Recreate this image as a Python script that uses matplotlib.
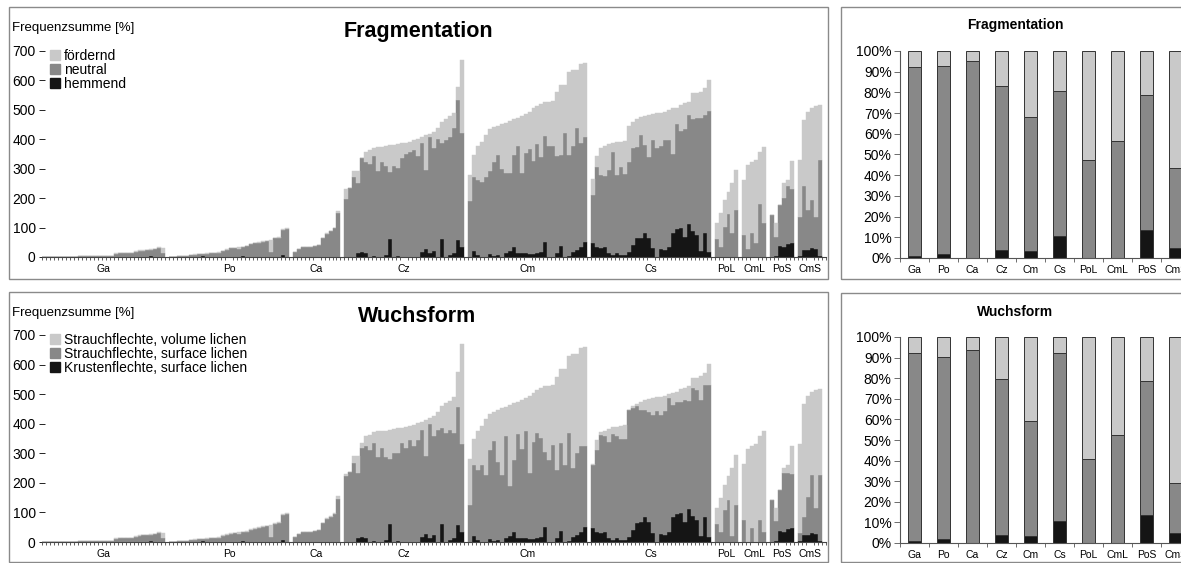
import numpy as np
import matplotlib.pyplot as plt
from matplotlib.patches import Rectangle, Patch

W, H = 1181, 563

groups = ['Ga', 'Po', 'Ca', 'Cz', 'Cm', 'Cs', 'PoL', 'CmL', 'PoS', 'CmS']

# Frequenzsumme per sample (same totals and same black series in both panels)
ga_total = [0, 0, 0, 0, 1, 1, 1, 1, 1, 2, 2, 3, 3, 3, 3, 3, 4, 4, 12, 13, 13, 14, 15, 20, 23, 24, 25, 27, 28, 33, 32]
po_total = [0, 1, 2, 3, 5, 8, 9, 10, 11, 12, 13, 14, 16, 22, 26, 30, 32, 35, 35, 38, 45, 48, 50, 53, 55, 58, 65, 68, 95, 97]
ca_total = [18, 28, 35, 35, 35, 37, 42, 65, 80, 88, 98, 155]
cz_total = [231, 236, 292, 292, 335, 357, 363, 372, 374, 375, 377, 379, 381, 384, 386,
            389, 392, 396, 401, 407, 414, 418, 425, 440, 459, 470, 478, 490, 576, 671]
cm_total = [279, 347, 377, 392, 415, 434, 441, 445, 452, 457, 462, 469, 474, 479, 486,
            494, 505, 513, 520, 526, 528, 530, 559, 585, 585, 628, 636, 636, 656, 660]
cs_total = [264, 344, 372, 377, 383, 389, 390, 392, 395, 445, 460, 468, 475, 479, 483,
            486, 489, 491, 494, 500, 505, 508, 517, 522, 528, 556, 556, 562, 573, 603]
pol_total = [116, 148, 193, 222, 250, 295]
cml_total = [263, 314, 323, 331, 357, 374]
pos_total = [143, 114, 176, 250, 261, 326]
cms_total = [330, 465, 493, 508, 513, 516]

# hemmend / Krustenflechte
ga_black = [0] * 27 + [2, 0, 0, 0]
po_black = [0, 0, 0, 0, 0, 0, 0, 0, 3, 0, 0, 0, 0, 0, 0, 0, 0, 0, 3, 0, 0, 0, 0, 0, 0, 0, 0, 0, 7, 0]
ca_black = [0] * 12
cz_black = [0, 0, 0, 15, 18, 12, 0, 5, 0, 0, 8, 60, 0, 2, 0, 0, 0, 0, 0, 18, 28, 15, 22, 0, 62, 0, 8, 15, 58, 35]
cm_black = [0, 21, 7, 0, 0, 9, 3, 6, 0, 12, 20, 35, 15, 15, 12, 9, 9, 12, 18, 50, 0, 0, 12, 37, 0, 3, 18, 24, 35, 52]
cs_black = [46, 35, 32, 33, 12, 7, 15, 7, 7, 18, 41, 63, 66, 83, 66, 29, 0, 26, 24, 35, 83, 94, 97, 69, 111, 88, 75, 21, 83, 18]
pol_black = [0] * 6
cml_black = [0] * 6
pos_black = [0, 3, 37, 35, 43, 46]
cms_black = [3, 25, 24, 30, 26, 5]

# top of the middle (neutral) segment, Fragmentation
ga_top_f = [0, 0, 0, 0, 1, 1, 1, 1, 1, 2, 2, 3, 3, 3, 3, 3, 3, 4, 11, 12, 12, 13, 14, 18, 21, 22, 23, 25, 26, 31, 12]
po_top_f = [0, 1, 2, 3, 5, 7, 8, 9, 10, 11, 12, 13, 15, 21, 25, 29, 31, 28, 33, 36, 43, 46, 48, 51, 54, 18, 63, 66, 93, 95]
ca_top_f = [17, 27, 34, 34, 34, 36, 41, 64, 79, 87, 97, 148]
cz_top_f = [197, 236, 272, 250, 335, 324, 316, 343, 292, 324, 309, 290, 310, 304, 338,
            349, 358, 364, 343, 389, 296, 409, 369, 400, 386, 397, 409, 440, 534, 420]
cm_top_f = [190, 271, 262, 256, 271, 292, 324, 347, 298, 284, 287, 347, 378, 287, 355,
            367, 327, 384, 341, 412, 377, 377, 343, 347, 420, 347, 377, 437, 386, 409]
cs_top_f = [211, 307, 279, 275, 296, 356, 279, 307, 281, 324, 372, 373, 415, 381, 339,
            398, 369, 377, 398, 398, 350, 452, 429, 434, 483, 468, 474, 474, 483, 497]
pol_top_f = [60, 35, 103, 145, 83, 159]
cml_top_f = [75, 26, 80, 46, 179, 116]
pos_top_f = [143, 69, 176, 199, 241, 230]
cms_top_f = [135, 240, 160, 195, 135, 330]

# top of the middle segment, Wuchsform
ga_top_w = [0, 0, 0, 0, 1, 1, 1, 1, 1, 2, 2, 3, 3, 3, 3, 3, 3, 4, 11, 12, 12, 13, 14, 18, 21, 22, 23, 25, 26, 30, 12]
po_top_w = [0, 1, 2, 3, 5, 7, 8, 9, 10, 11, 12, 13, 15, 21, 25, 28, 30, 27, 33, 35, 42, 45, 47, 50, 53, 16, 62, 65, 92, 95]
ca_top_w = [17, 27, 34, 34, 34, 36, 41, 63, 78, 86, 96, 146]
cz_top_w = [224, 236, 267, 235, 318, 324, 312, 334, 287, 318, 289, 281, 301, 301, 334,
            318, 346, 323, 346, 379, 292, 400, 357, 379, 387, 368, 380, 368, 456, 332]
cm_top_w = [124, 259, 244, 261, 227, 312, 340, 272, 225, 359, 190, 276, 366, 314, 377,
            233, 338, 370, 351, 306, 278, 329, 244, 334, 261, 370, 250, 301, 323, 323]
cs_top_w = [261, 310, 363, 357, 338, 366, 359, 350, 348, 445, 453, 460, 447, 447, 441,
            428, 444, 430, 444, 486, 464, 472, 473, 481, 478, 520, 515, 481, 531, 531]
pol_top_w = [61, 34, 109, 141, 21, 126]
cml_top_w = [75, 0, 47, 0, 75, 33]
pos_top_w = [143, 70, 177, 235, 235, 230]
cms_top_w = [30, 84, 151, 227, 115, 227]

# 100 % summaries (right panels)
pct_black = [1, 2, 0, 4, 3.5, 10.5, 0, 0, 13.5, 5]
pct_top_f = [92.5, 92.8, 95.2, 83.2, 68, 80.7, 47.3, 56.7, 78.7, 43.4]
pct_top_w = [92.3, 90.3, 93.5, 79.7, 59, 92.4, 41, 52.2, 78.6, 29.2]

LIGHT = '#c9c9c9'
MID = '#888888'
DARK = '#151515'

plt.rcParams['font.family'] = ['Liberation Sans', 'DejaVu Sans']

totals = [ga_total, po_total, ca_total, cz_total, cm_total, cs_total, pol_total, cml_total, pos_total, cms_total]
blacks = [ga_black, po_black, ca_black, cz_black, cm_black, cs_black, pol_black, cml_black, pos_black, cms_black]
tops_f = [ga_top_f, po_top_f, ca_top_f, cz_top_f, cm_top_f, cs_top_f, pol_top_f, cml_top_f, pos_top_f, cms_top_f]
tops_w = [ga_top_w, po_top_w, ca_top_w, cz_top_w, cm_top_w, cs_top_w, pol_top_w, cml_top_w, pos_top_w, cms_top_w]


def px(x0, y0, x1, y1):
    return [x0 / W, 1 - y1 / H, (x1 - x0) / W, (y1 - y0) / H]


def positions():
    xs, centers, start = [], [], 0
    for t in totals:
        x = start + np.arange(len(t))
        xs.append(x)
        centers.append(x.mean())
        start += len(t) + 1
    return xs, centers, start - 1


def big_panel(ax, tops, labels):
    xs, centers, nslots = positions()
    for x, tot, top, blk in zip(xs, totals, tops, blacks):
        tot, top, blk = np.array(tot), np.array(top), np.array(blk)
        kw = dict(width=1.0, linewidth=0.3)
        ax.bar(x, blk, color=DARK, edgecolor=DARK, **kw)
        ax.bar(x, top - blk, bottom=blk, color=MID, edgecolor=MID, **kw)
        ax.bar(x, tot - top, bottom=top, color=LIGHT, edgecolor=LIGHT, **kw)
    ax.set_xlim(-0.5, nslots + 0.5)
    ax.set_ylim(0, 700)
    ax.set_yticks(np.arange(0, 701, 100))
    ax.set_xticks(centers)
    ax.set_xticklabels(groups, fontsize=7.5)
    ax.set_xticks(np.arange(-0.5, nslots + 1), minor=True)
    ax.tick_params(axis='x', which='major', length=0, pad=5)
    ax.tick_params(axis='x', which='minor', length=2.5, width=0.6, color='#444444', direction='out')
    ax.tick_params(axis='y', labelsize=10, length=5, width=0.6, direction='inout', pad=2)
    for s in ['top', 'right', 'left']:
        ax.spines[s].set_visible(False)
    ax.spines['bottom'].set_color('#444444')
    ax.spines['bottom'].set_linewidth(0.8)
    handles = [Patch(color=LIGHT), Patch(color=MID), Patch(color=DARK)]
    ax.legend(handles, labels, loc='upper left', bbox_to_anchor=(0.01, 1.01), frameon=False,
              fontsize=10, handlelength=0.7, handleheight=0.7, handletextpad=0.3,
              labelspacing=0.0, borderpad=0, borderaxespad=0)


def pct_panel(ax, tops):
    x = np.arange(len(groups))
    blk = np.array(pct_black)
    top = np.array(tops)
    kw = dict(width=0.42, edgecolor='#333333', linewidth=0.7)
    ax.bar(x, blk, color=DARK, **kw)
    ax.bar(x, top - blk, bottom=blk, color=MID, **kw)
    ax.bar(x, 100 - top, bottom=top, color=LIGHT, **kw)
    ax.set_xlim(-0.5, len(groups) - 0.5)
    ax.set_ylim(0, 100)
    ax.set_yticks(np.arange(0, 101, 10))
    ax.set_yticklabels([f'{v}%' for v in range(0, 101, 10)])
    ax.set_xticks(x)
    ax.set_xticklabels(groups, fontsize=7.5)
    ax.set_xticks(np.arange(-0.5, len(groups)), minor=True)
    ax.tick_params(axis='x', which='major', length=0, pad=5)
    ax.tick_params(axis='x', which='minor', length=3, width=0.6, color='#555555', direction='out')
    ax.tick_params(axis='y', labelsize=10, length=4, width=0.6, color='#555555', pad=2)
    for s in ['top', 'right']:
        ax.spines[s].set_visible(False)
    for s in ['left', 'bottom']:
        ax.spines[s].set_color('#555555')
        ax.spines[s].set_linewidth(0.8)


fig = plt.figure(figsize=(W / 100, H / 100), dpi=100)

# chart area frames
for box in [(9, 7, 828, 279), (9, 292, 828, 562), (841, 7, 1200, 279), (841, 293, 1200, 562)]:
    fig.add_artist(Rectangle(px(*box)[:2], px(*box)[2], px(*box)[3], transform=fig.transFigure,
                             fill=False, edgecolor='#8a8a8a', linewidth=1.0))

ax1 = fig.add_axes(px(42, 51, 826, 257))
big_panel(ax1, tops_f, ['fördernd', 'neutral', 'hemmend'])
ax2 = fig.add_axes(px(42, 335, 826, 542))
big_panel(ax2, tops_w, ['Strauchflechte, volume lichen', 'Strauchflechte, surface lichen',
                        'Krustenflechte, surface lichen'])

ax3 = fig.add_axes(px(900, 51, 1190, 258))
pct_panel(ax3, pct_top_f)
ax4 = fig.add_axes(px(900, 337, 1190, 543))
pct_panel(ax4, pct_top_w)

fig.text(12 / W, 1 - 28 / H, 'Frequenzsumme [%]', fontsize=9.5, ha='left', va='center')
fig.text(12 / W, 1 - 313 / H, 'Frequenzsumme [%]', fontsize=9.5, ha='left', va='center')
fig.text(418 / W, 1 - 32 / H, 'Fragmentation', fontsize=15.5, fontweight='bold', ha='center', va='center')
fig.text(417 / W, 1 - 317 / H, 'Wuchsform', fontsize=15.5, fontweight='bold', ha='center', va='center')
fig.text(1015 / W, 1 - 25 / H, 'Fragmentation', fontsize=10, fontweight='bold', ha='center', va='center')
fig.text(1015 / W, 1 - 312 / H, 'Wuchsform', fontsize=10, fontweight='bold', ha='center', va='center')

fig.savefig('out.png', dpi=100)
